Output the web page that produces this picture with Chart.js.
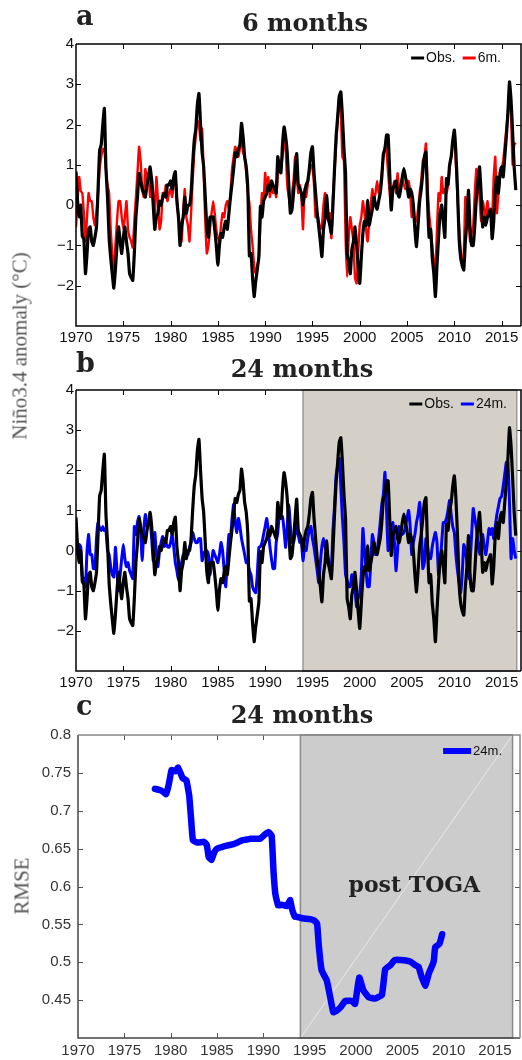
<!DOCTYPE html>
<html><head><meta charset="utf-8">
<script src="https://cdn.jsdelivr.net/npm/chart.js@4.4.1/dist/chart.umd.min.js"></script>
<style>
html,body{margin:0;padding:0;background:#fff;}
body{width:522px;height:1060px;position:relative;overflow:hidden;}
canvas{position:absolute;left:0;}
.ttl{position:absolute;font-family:"DejaVu Serif",serif;font-weight:bold;color:#222;white-space:nowrap;line-height:1;}
.lbl{position:absolute;font-family:"Liberation Serif",serif;color:#555;white-space:nowrap;line-height:1;transform:translate(-50%,-50%) rotate(-90deg);}
</style></head><body>
<canvas id="ca" width="522" height="350" style="top:0"></canvas>
<canvas id="cb" width="522" height="350" style="top:350px"></canvas>
<canvas id="cc" width="522" height="360" style="top:700px"></canvas>

<div class="ttl" style="left:76px;top:2px;font-size:27px">a</div>
<div class="ttl" style="left:0;width:610px;text-align:center;top:11px;font-size:24px">6 months</div>
<div class="ttl" style="left:76px;top:349px;font-size:27px">b</div>
<div class="ttl" style="left:0;width:604px;text-align:center;top:357px;font-size:24px">24 months</div>
<div class="ttl" style="left:76px;top:692px;font-size:27px">c</div>
<div class="ttl" style="left:0;width:604px;text-align:center;top:703px;font-size:24px">24 months</div>
<div class="lbl" style="left:20px;top:346px;font-size:21px">Niño3.4 anomaly (°C)</div>
<div class="lbl" style="left:22px;top:886px;font-size:21px">RMSE</div>

<script>
// ---------------- data ----------------
const startYear = 1970;           // first sample
const samplesPerYear = 6;         // bimonthly samples
const xTickLabels = [1970,1975,1980,1985,1990,1995,2000,2005,2010,2015];

const obs = [
  0.83, 0.1, -0.29, 0.0, -0.77, -0.85,
  -1.7, -1.2, -0.6, -0.54, -0.9, -1.0,
  -0.8, -0.54, 0.4, 1.36, 1.5, 2.0,
  2.4, 0.9, 0.2, -0.8, -1.3, -1.7,
  -2.06, -1.6, -1.0, -0.54, -0.9, -1.2,
  -0.8, -0.54, -0.9, -1.2, -1.7, -1.8,
  -1.87, -1.2, -0.3, 0.2, 0.79, 0.6,
  0.4, 0.3, 0.2, 0.5, 0.7, 0.95,
  0.6, 0.0, -0.6, -0.3, -0.2, 0.1,
  0.0, 0.2, 0.3, 0.2, 0.5, 0.5,
  0.6, 0.4, 0.7, 0.83, 0.1, -0.3,
  -1.0, -0.5, -0.3, 0.2, -0.2, 0.0,
  0.0, 0.3, 1.0, 1.6, 1.9, 2.5,
  2.77, 2.0, 1.3, 0.95, 0.2, -0.54,
  -0.8, -0.3, -0.3, -0.29, -0.6, -1.0,
  -1.49, -1.0, -0.7, -0.8, -0.54, -0.4,
  -0.6, -0.2, 0.2, 0.54, 0.9, 1.3,
  1.2, 1.4, 1.5, 2.03, 1.7, 1.2,
  0.95, 0.4, -1.26, -1.2, -1.8, -2.27,
  -1.9, -1.6, -1.28, -0.03, -0.3, 0.1,
  0.2, 0.3, 0.5, 0.37, 0.6, 0.5,
  0.4, 0.3, 1.2, 0.9, 0.8, 1.5,
  1.94, 1.7, 1.3, 0.5, -0.2, -0.12,
  0.3, 0.8, 1.28, 0.5, 0.4, 0.3,
  0.0, 0.3, 0.5, 0.6, 0.9, 1.3,
  1.45, 0.8, 0.3, -0.2, -0.54, -0.9,
  -1.28, -0.6, -0.3, 0.24, -0.3, -0.5,
  -0.7, 0.0, 0.9, 1.7, 2.2, 2.7,
  2.81, 2.2, 1.4, 0.79, -1.2, -1.4,
  -1.7, -1.1, -0.9, -0.54, -1.0, -1.5,
  -1.94, -1.3, -0.7, -0.4, -0.5, 0.12,
  -0.5, -0.3, -0.1, 0.2, 0.0, -0.1,
  0.1, 0.3, 0.7, 1.28, 1.4, 1.74,
  1.74, 0.8, -0.12, 0.4, 0.5, 0.6,
  0.3, 0.2, 0.4, 0.7, 0.91, 0.7,
  0.5, 0.2, 0.4, 0.3, 0.0, -0.6,
  -1.03, -0.5, 0.1, 0.4, 0.8, 1.2,
  1.32, 0.1, -0.8, -0.6, -1.3, -1.7,
  -2.27, -1.5, -0.8, -0.2, 0.0, -0.4,
  -0.8, 0.66, 0.5, 1.0, 1.2, 1.6,
  1.86, 1.3, 0.4, -0.8, -1.3, -1.5,
  -1.61, -0.9, -0.4, 0.37, -0.6, -1.0,
  -1.0, -0.5, 0.2, 0.6, 0.95, 0.3,
  -0.54, -0.3, -0.5, -0.3, -0.2, -0.1,
  -0.83, -0.4, 0.4, 0.7, 0.3, 0.8,
  0.95, 0.7, 1.2, 1.7, 2.3, 3.06,
  2.6, 1.8, 0.93, 0.37
];

const pred6m = [
  -0.55, 0.1, 0.7, 0.35, 0.3, -0.2,
  -0.9, -0.3, 0.3, 0.1, 0.1, -0.3,
  -0.5, -0.2, 0.3, 0.9, 1.2, 1.4,
  1.35, 0.9, 0.5, 0.3, -0.6, -1.2,
  -1.6, -1.0, -0.4, 0.1, 0.1, -0.3,
  -0.6, -0.3, 0.1, -0.6, -0.8, -0.9,
  -1.05, -0.4, 0.2, 0.8, 1.45, 1.1,
  0.4, 0.2, 0.9, 0.6, 0.8, 0.2,
  0.7, 0.3, -0.3, 0.7, 0.1, -0.6,
  -0.4, 0.3, 0.2, 0.5, 0.1, 0.3,
  0.4, 0.2, 0.5, 0.7, 0.2, -0.3,
  -0.5, -0.9, -0.2, 0.4, -0.3, -0.5,
  -0.9, -0.2, 0.6, 1.3, 1.7, 2.1,
  2.0, 1.6, 1.9, 0.8, -0.4, -1.2,
  -1.0, -0.6, -0.2, 0.1, -0.2, -0.6,
  -0.8, -0.9, -0.5, -0.2, -0.3, 0.0,
  0.1, -0.1, 0.3, 0.9, 1.2, 1.45,
  1.3, 1.2, 1.4, 1.6, 1.3, 1.2,
  0.8, 0.3, 0.05, -0.6, -1.0, -1.5,
  -1.7, -1.5, -1.3, -0.4, 0.3, 0.1,
  0.8, 0.3, 0.7, 0.2, 0.5, 0.3,
  0.4, 0.2, 0.7, 1.1, 0.9, 1.2,
  1.6, 1.4, 0.5, 0.2, 0.0, 0.3,
  0.6, 1.2, 0.8, 0.3, 0.5, 0.2,
  -0.6, 0.4, 0.2, 0.5, 0.8, 1.0,
  0.9, 0.5, -0.3, -0.2, -0.4, -0.6,
  -0.5, 0.0, 0.3, -0.2, -0.4, -0.2,
  -0.82, 0.2, 0.8, 1.5, 2.1, 2.7,
  2.3, 1.2, 1.1, -0.8, -1.78, -0.8,
  -0.3, -0.6, -0.9, -1.8, -1.94, -1.2,
  -0.5, -0.3, 0.1, -0.2, -0.6, -0.9,
  -0.4, 0.0, 0.4, 0.1, 0.3, 0.6,
  0.3, 0.5, 0.8, 1.2, 1.45, 1.3,
  0.8, 0.3, -0.1, 0.4, 0.6, 0.3,
  0.79, 0.4, 0.5, 0.7, 0.5, 0.4,
  0.4, 0.6, 0.3, -0.3, 0.0, -0.4,
  -0.4, -0.1, 0.3, 0.6, 1.1, 1.2,
  1.53, 0.5, -0.2, -0.6, -1.0, -1.4,
  -1.61, -0.6, 0.3, 0.1, 0.7, 0.3,
  0.4, 0.3, 0.5, 0.9, 1.2, 1.5,
  1.8, 1.0, 0.2, -0.5, -1.1, -1.4,
  -1.2, 0.2, 0.0, -0.3, -0.9, -0.7,
  -0.5, 0.3, 0.9, 0.6, 0.2, -0.4,
  0.1, -0.1, -0.3, 0.1, -0.2, -0.3,
  -0.3, 0.7, 1.2, -0.2, 0.3, 0.7,
  0.9, 1.1, 1.5, 1.9, 2.3, 2.69,
  2.2, 1.0, 1.5, 1.55
];

const pred24m = [
  0.45, -0.1, 0.15, 0.1, -0.62, -0.75,
  -0.9, 0.0, 0.4, -0.1, -0.1, -0.45,
  -0.45, 0.3, 0.7, 0.55, 0.5, 0.6,
  0.5, 0.5, 0.0, -0.1, -0.4, -0.6,
  -0.66, 0.08, -0.5, -1.0, -0.6, -0.2,
  0.15, -0.2, -0.4, -0.3, -0.5, -0.6,
  -0.7, 0.6, 0.4, 0.7, 0.85, 0.5,
  -0.25, 0.5, 0.9, 0.6, 0.7, 0.75,
  0.3, -0.25, 0.45, -0.1, -0.4, 0.0,
  0.2, 0.35, 0.1, 0.2, 0.1, 0.08,
  0.2, 0.4, 0.1, -0.3, -0.5, -0.74,
  -0.5, -0.3, -0.1, -0.2, 0.0, -0.1,
  0.08, 0.2, 0.45, 0.3, 0.2, 0.2,
  0.3, 0.3, -0.25, -0.1, 0.0, 0.0,
  -0.1, -0.6, -0.3, 0.0, -0.1, -0.2,
  -0.3, -0.1, 0.2, 0.0, -0.5, -0.9,
  -0.2, 0.4, 0.3, 0.8, 1.15, 0.7,
  0.45, 0.8, 0.6, 0.3, 0.1, -0.1,
  -0.3, -0.3, -0.5, -0.6, -0.9, -1.0,
  -1.05, -0.6, 0.08, 0.1, 0.2, 0.4,
  0.6, 0.8, 0.5, 0.1, -0.2, -0.45,
  -0.45, 0.2, 0.45, 0.9, 0.85, 0.85,
  0.5, 0.08, 0.6, 1.15, 0.6, 0.2,
  0.2, 0.4, 0.6, 0.4, 0.2, 0.2,
  -0.25, 0.1, 0.0, 0.3, 0.5, 0.6,
  0.3, 0.08, -0.2, -0.5, -0.8, -0.3,
  0.1, 0.3, 0.1, 0.0, -0.2, -0.45,
  -0.45, 0.5, 1.1, 1.85, 2.1, 2.3,
  1.6, 0.8, 0.2, -0.6, -0.75, -0.9,
  -0.9, -0.6, -0.75, -1.0, -1.4, -1.2,
  -1.05, -0.6, 0.55, 0.0, -0.5, -0.9,
  -0.9, -0.3, 0.4, 0.2, -0.1, 0.0,
  0.3, 0.7, 1.15, 1.4, 1.95, 1.0,
  0.0, 0.2, 0.5, 0.7, 0.2, -0.5,
  0.0, 0.6, 0.5, 0.4, 0.45, 0.6,
  0.8, 1.0, 0.6, -0.1, 0.2, 0.4,
  0.7, 0.9, 1.2, 0.6, -0.45, -0.3,
  0.3, 0.1, -0.2, -0.2, 0.1, 0.3,
  0.45, 0.2, -0.6, -0.3, 0.2, 0.7,
  0.7, 0.8, 1.0, 1.25, 0.9, 0.6,
  0.45, -0.1, -0.5, -0.8, -1.05, -0.6,
  0.15, 0.0, -0.3, -0.7, -0.3, 0.4,
  1.05, 0.8, 0.55, 0.2, -0.1, 0.2,
  0.4, 0.1, -0.1, 0.2, 0.55, 0.4,
  0.55, 0.3, 0.6, 0.9, 1.1, 1.3,
  1.35, 1.6, 1.9, 2.2, 2.2, 1.2,
  -0.2, 0.3, 0.0, -0.2
];

const rmseYears = [1978.3,1978.9,1979.3,1979.5,1979.8,1980.1,1980.5,1980.8,1981.3,1981.7,1982.0,1982.2,1982.4,1982.9,1983.6,1983.9,1984.1,1984.4,1984.7,1985.0,1985.5,1986.05,1986.8,1987.2,1987.7,1988.2,1988.6,1989.1,1989.65,1990.1,1990.55,1990.9,1991.1,1991.3,1991.6,1992.0,1992.5,1992.8,1992.9,1993.1,1993.4,1993.6,1994.2,1995.05,1995.5,1995.8,1996.0,1996.3,1996.85,1997.2,1997.55,1997.9,1998.3,1998.85,1999.2,1999.55,1999.9,2000.35,2000.8,2001.35,2002.05,2002.8,2003.15,2003.7,2004.2,2004.8,2005.5,2006.0,2006.4,2006.75,2007.1,2007.5,2007.85,2008.2,2008.4,2008.55,2009.0,2009.3];
const rmse24m = [0.729,0.727,0.724,0.722,0.735,0.754,0.752,0.757,0.743,0.740,0.72,0.69,0.661,0.658,0.659,0.655,0.639,0.635,0.645,0.650,0.652,0.654,0.656,0.658,0.661,0.662,0.663,0.663,0.663,0.668,0.672,0.667,0.62,0.59,0.575,0.576,0.574,0.58,0.582,0.57,0.56,0.56,0.558,0.557,0.555,0.551,0.52,0.489,0.476,0.455,0.434,0.436,0.44,0.449,0.449,0.449,0.445,0.48,0.463,0.454,0.452,0.457,0.491,0.496,0.503,0.503,0.502,0.5,0.496,0.494,0.48,0.469,0.485,0.495,0.502,0.52,0.524,0.537];

const postTogaPeriod = [1994, 2016.6];
const postTogaLabel = {text: 'post TOGA', x: 2006.3, y: 0.6};

// ---------------- helpers ----------------
const toXY = vals => vals.map((v, i) => ({x: startYear + i / samplesPerYear, y: v}));
const minus = v => (v < 0 ? '\u2212' + Math.abs(v) : String(v));

const deco = {
  id: 'deco',
  beforeDatasetsDraw(chart, args, o) {
    const {ctx, chartArea: a, scales: {x, y}} = chart;
    ctx.save();
    ctx.strokeStyle = o.axisColor; ctx.lineWidth = 1;
    ctx.beginPath();
    x.ticks.forEach(t => {
      const p = Math.round(x.getPixelForValue(t.value)) + 0.5;
      if (p <= a.left + 1 || p >= a.right - 1) return;
      ctx.moveTo(p, a.top); ctx.lineTo(p, a.top + o.tl);
      ctx.moveTo(p, a.bottom); ctx.lineTo(p, a.bottom - o.tl);
    });
    y.ticks.forEach(t => {
      const p = Math.round(y.getPixelForValue(t.value)) + 0.5;
      if (p <= a.top + 1 || p >= a.bottom - 1) return;
      ctx.moveTo(a.left, p); ctx.lineTo(a.left + o.tl, p);
      ctx.moveTo(a.right, p); ctx.lineTo(a.right - o.tl, p);
    });
    ctx.stroke();
    if (o.shade) {
      const x0 = x.getPixelForValue(o.shade[0]), x1 = x.getPixelForValue(o.shade[1]);
      ctx.fillStyle = o.shadeColor;
      ctx.fillRect(x0, a.top, x1 - x0, a.bottom - a.top);
      if (o.diag) {
        ctx.strokeStyle = o.diag; ctx.lineWidth = 1;
        ctx.beginPath(); ctx.moveTo(x0, a.bottom); ctx.lineTo(x1, a.top); ctx.stroke();
      }
      ctx.strokeStyle = o.shadeEdge; ctx.lineWidth = 1.5;
      ctx.strokeRect(x0, a.top, x1 - x0, a.bottom - a.top);
    }
    ctx.restore();
  },
  afterDatasetsDraw(chart, args, o) {
    const {ctx, chartArea: a, scales: {x, y}} = chart;
    ctx.save();
    // axes box
    ctx.lineWidth = o.boxWidth;
    ctx.strokeStyle = o.boxLeft;
    ctx.beginPath(); ctx.moveTo(a.left, a.top); ctx.lineTo(a.left, a.bottom); ctx.lineTo(a.right, a.bottom); ctx.stroke();
    ctx.strokeStyle = o.boxTop;
    ctx.beginPath(); ctx.moveTo(a.left, a.top); ctx.lineTo(a.right, a.top); ctx.lineTo(a.right, a.bottom); ctx.stroke();
    // annotation text
    if (o.note) {
      ctx.font = 'bold 22px "DejaVu Serif"';
      ctx.fillStyle = '#222'; ctx.textAlign = 'center'; ctx.textBaseline = 'middle';
      ctx.fillText(o.note.text, x.getPixelForValue(o.note.x), y.getPixelForValue(o.note.y));
    }
    // legend (right aligned, inside the axes)
    const L = o.legend;
    ctx.font = L.font; ctx.textBaseline = 'middle'; ctx.textAlign = 'left';
    const items = chart.data.datasets.filter(d => d.label);
    const widths = items.map(d => L.seg + 2 + ctx.measureText(d.label).width);
    const total = widths.reduce((s, w) => s + w, 0) + L.gap * (items.length - 1);
    let cx = a.right - L.right - total;
    const cy = a.top + L.top;
    items.forEach((d, i) => {
      ctx.strokeStyle = d.borderColor; ctx.lineWidth = L.lw; ctx.lineCap = 'butt';
      ctx.beginPath(); ctx.moveTo(cx, cy); ctx.lineTo(cx + L.seg, cy); ctx.stroke();
      ctx.fillStyle = '#111';
      ctx.fillText(d.label, cx + L.seg + 2, cy + 0.5);
      cx += widths[i] + L.gap;
    });
    ctx.restore();
  }
};
Chart.register(deco);

function makeChart(id, cfg) {
  return new Chart(document.getElementById(id), {
    type: 'line',
    data: {datasets: cfg.datasets},
    options: {
      responsive: false, animation: false, events: [],
      layout: {padding: cfg.padding},
      elements: {point: {radius: 0}},
      plugins: {legend: {display: false}, tooltip: {enabled: false}, deco: cfg.deco},
      scales: {
        x: {
          type: 'linear', min: 1970, max: cfg.xmax,
          grid: {display: false, drawTicks: false}, border: {display: false},
          afterFit: s => { s.height = cfg.xh; },
          ticks: {stepSize: 5, includeBounds: false, autoSkip: false, maxRotation: 0,
            padding: cfg.xpad, color: cfg.tickColor,
            font: {family: '"Liberation Sans", Arial, sans-serif', size: 15},
            callback: v => (xTickLabels.includes(v) ? String(v) : '')}
        },
        y: {
          type: 'linear', min: cfg.ymin, max: cfg.ymax,
          grid: {display: false, drawTicks: false}, border: {display: false},
          afterFit: s => { s.width = cfg.yw; },
          ticks: {stepSize: cfg.ystep, padding: cfg.ypad, color: cfg.tickColor,
            font: {family: '"Liberation Sans", Arial, sans-serif', size: 15},
            callback: cfg.yfmt}
        }
      }
    }
  });
}

const anomFmt = v => (v <= -3 ? '' : minus(v));

makeChart('ca', {
  padding: {top: 44, right: 1, left: 0, bottom: 0}, xh: 24, yw: 76, xpad: 3, ypad: 2,
  xmax: 2017.05, ymin: -3, ymax: 4, ystep: 1, yfmt: anomFmt, tickColor: '#111',
  datasets: [
    {label: 'Obs.', data: toXY(obs), borderColor: '#000000', borderWidth: 3.2, tension: 0.15, parsing: false},
    {label: '6m.', data: toXY(pred6m), borderColor: '#ff0000', borderWidth: 2.4, tension: 0.15, parsing: false}
  ],
  deco: {axisColor: '#000', tl: 5, boxWidth: 1.5, boxLeft: '#000', boxTop: '#000',
    legend: {font: '14px "Liberation Sans"', seg: 13, gap: 7, lw: 3, right: 20, top: 14}}
});

makeChart('cb', {
  padding: {top: 40, right: 1, left: 0, bottom: 0}, xh: 29, yw: 76, xpad: 3, ypad: 2,
  xmax: 2017.05, ymin: -3, ymax: 4, ystep: 1, yfmt: anomFmt, tickColor: '#111',
  datasets: [
    {label: 'Obs.', data: toXY(obs), borderColor: '#000000', borderWidth: 3.2, tension: 0.15, parsing: false},
    {label: '24m.', data: toXY(pred24m), borderColor: '#0000ff', borderWidth: 3, tension: 0.15, parsing: false}
  ],
  deco: {axisColor: '#000', tl: 5, boxWidth: 1.5, boxLeft: '#000', boxTop: '#000',
    shade: postTogaPeriod, shadeColor: '#d4d0c8', shadeEdge: '#9a9a9a',
    legend: {font: '14px "Liberation Sans"', seg: 13, gap: 7, lw: 3, right: 14, top: 14}}
});

makeChart('cc', {
  padding: {top: 35, right: 2, left: 0, bottom: 0}, xh: 22, yw: 78, xpad: 4, ypad: 7,
  xmax: 2017.7, ymin: 0.4, ymax: 0.8, ystep: 0.05, tickColor: '#333',
  yfmt: v => (v < 0.41 ? '' : String(+v.toFixed(2))),
  datasets: [
    {label: '24m.', data: rmseYears.map((t, i) => ({x: t, y: rmse24m[i]})), borderColor: '#0000ff',
     borderWidth: 6.5, tension: 0.1, borderCapStyle: 'round', borderJoinStyle: 'round', parsing: false}
  ],
  deco: {axisColor: '#555', tl: 5, boxWidth: 1.5, boxLeft: '#444', boxTop: '#888',
    shade: postTogaPeriod.map((v, i) => (i === 1 ? 2016.9 : v)), shadeColor: '#cccccc', shadeEdge: '#8a8a8a',
    diag: 'rgba(255,255,255,0.55)', note: postTogaLabel,
    legend: {font: '13px "Liberation Sans"', seg: 28, gap: 7, lw: 6, right: 18, top: 16}}
});
</script>
</body></html>
